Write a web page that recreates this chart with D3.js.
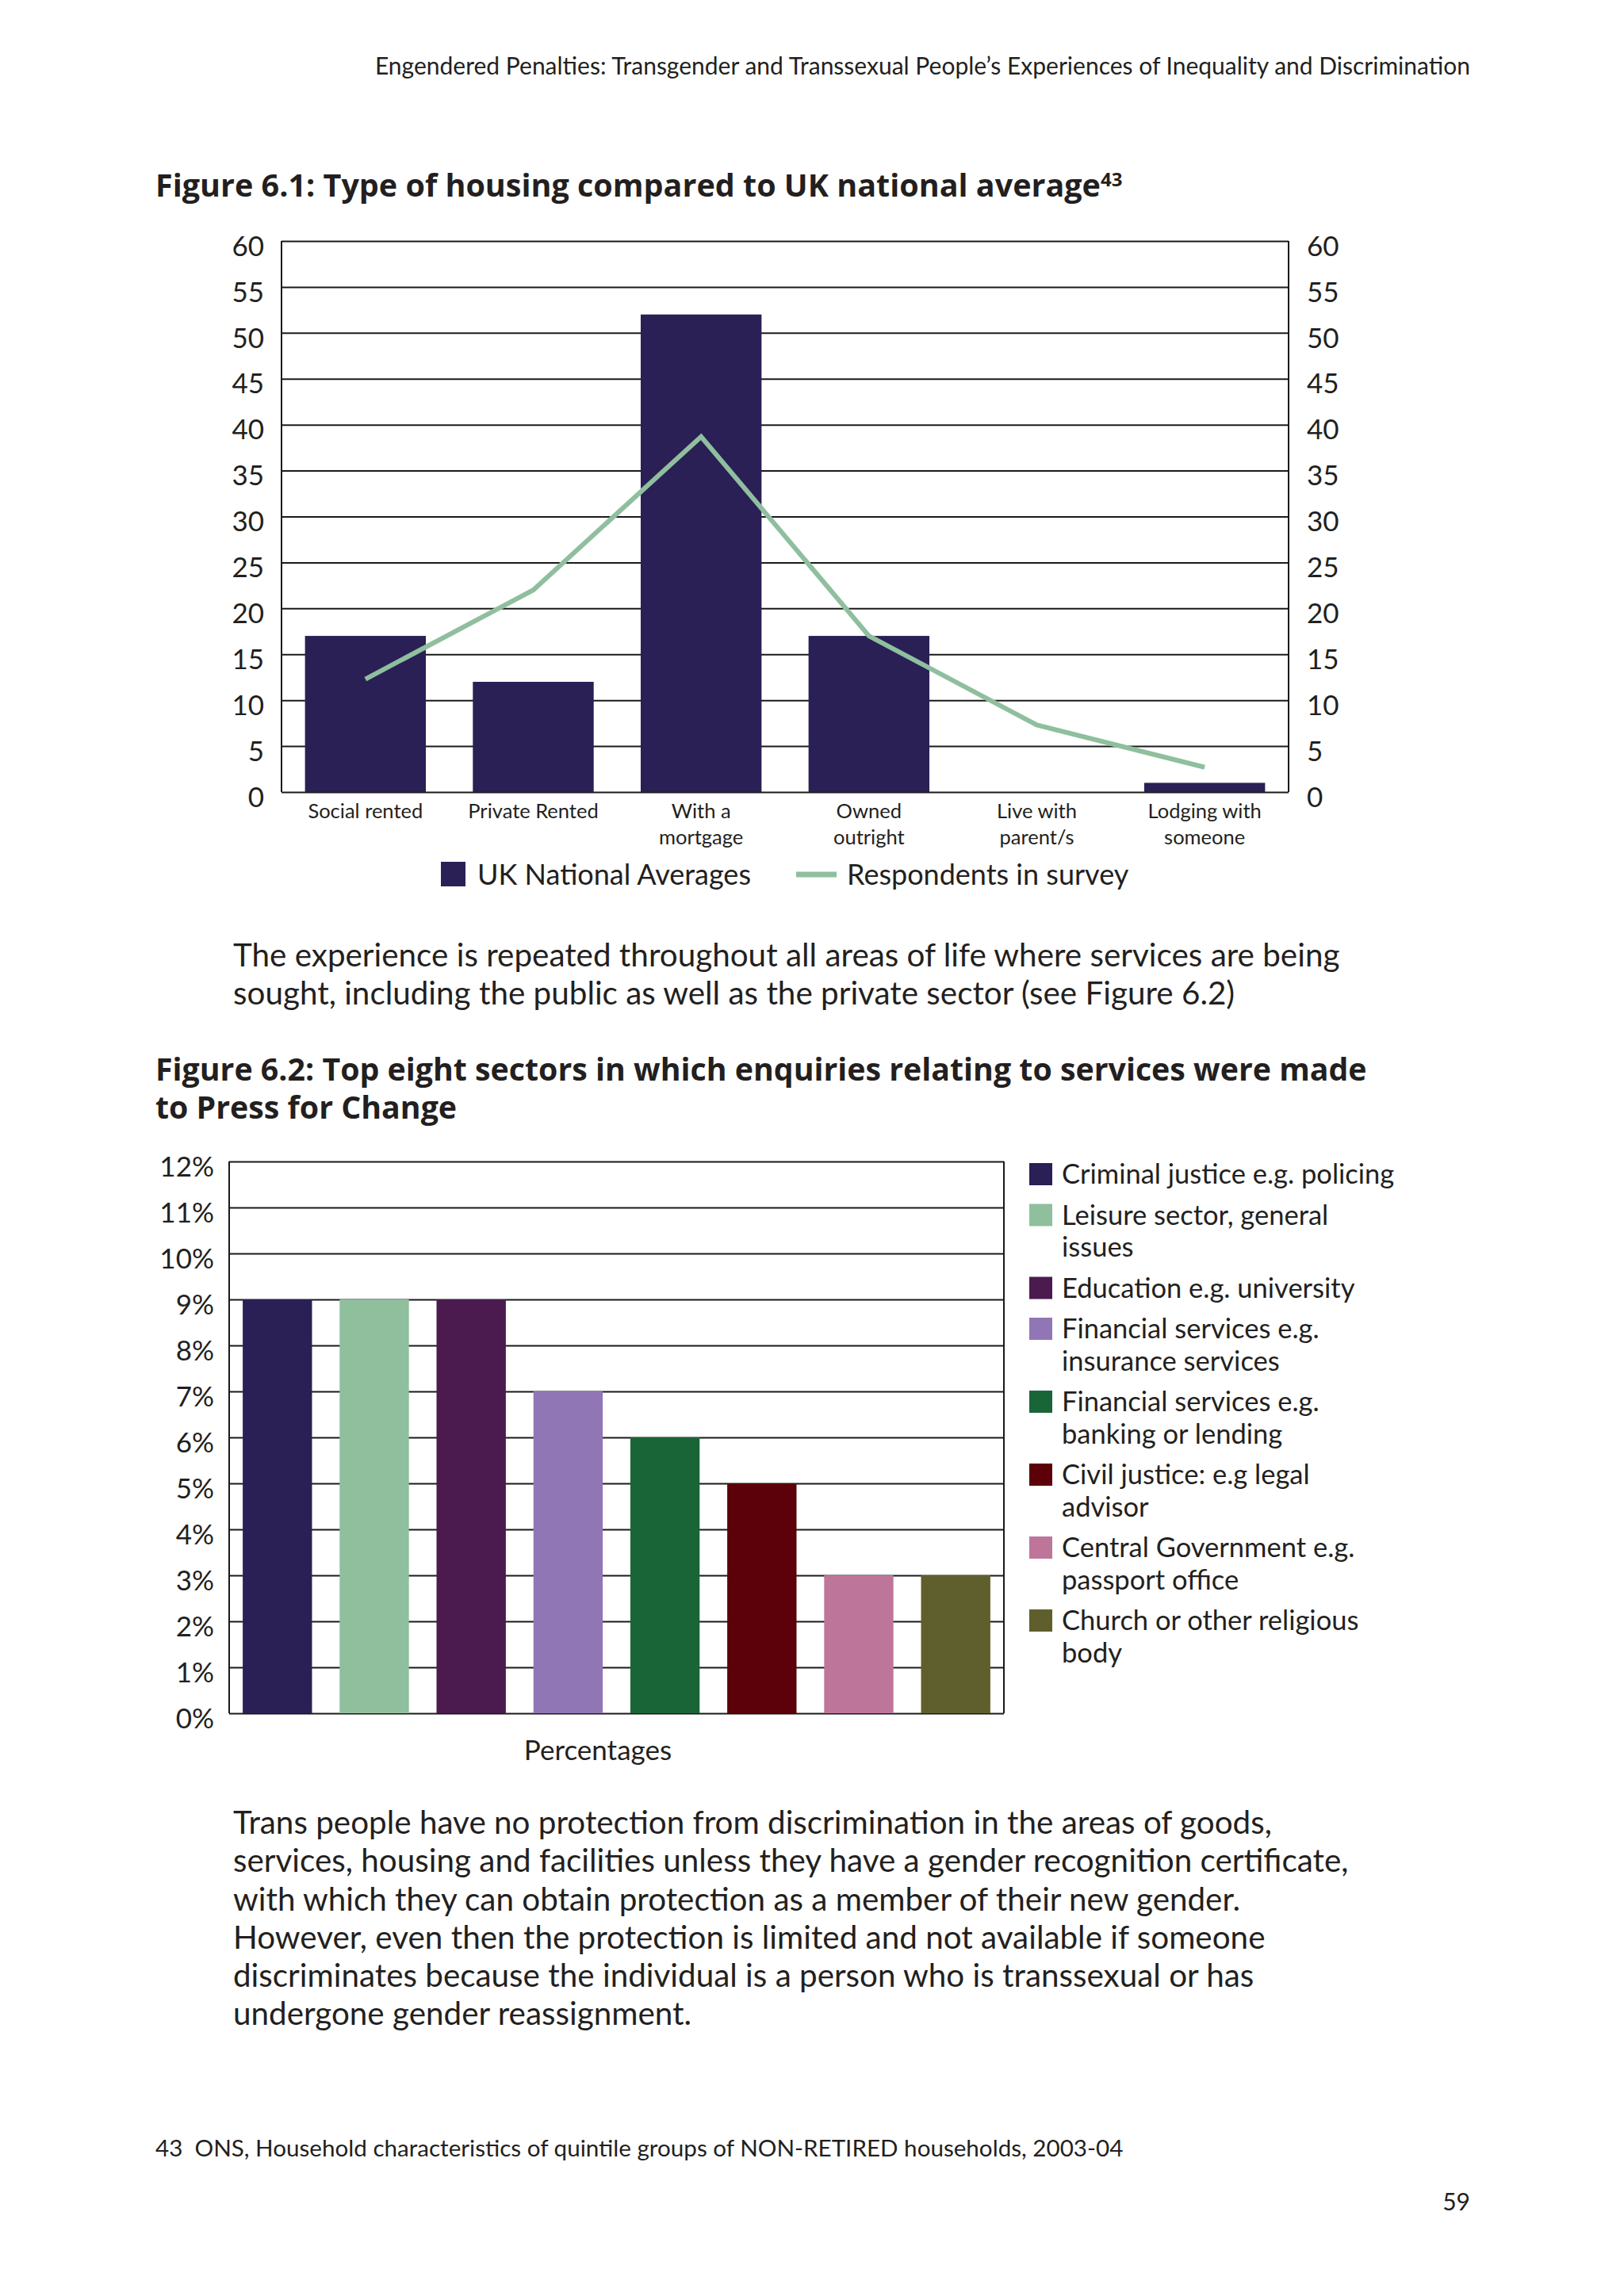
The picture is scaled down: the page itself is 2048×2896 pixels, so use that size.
<!DOCTYPE html>
<html>
<head>
<meta charset="utf-8">
<script src="https://cdn.jsdelivr.net/npm/d3@7"></script>
<style>
  body { margin: 0; background: #fff; }
  text { font-family: Lato, "Open Sans", sans-serif; fill: #231f20; }
  .bold { font-family: "Open Sans", Lato, sans-serif; }
</style>
</head>
<body>
<div id="page"></div>
<script>
// Figure 6.1 data
const housingCats = ["Social rented", "Private Rented", "With a mortgage", "Owned outright", "Live with parent/s", "Lodging with someone"];
const housingLabels = [["Social rented"], ["Private Rented"], ["With a", "mortgage"], ["Owned", "outright"], ["Live with", "parent/s"], ["Lodging with", "someone"]];
const ukAverages = [17, 12, 52, 17, 0, 1];
const respondents = [12.3, 22, 38.7, 17, 7.3, 2.7];
const housingTicks = [0, 5, 10, 15, 20, 25, 30, 35, 40, 45, 50, 55, 60];

// Figure 6.2 data
const sectors = ["Criminal justice", "Leisure sector", "Education", "Financial insurance", "Financial banking", "Civil justice", "Central Government", "Church"];
const sectorLegend = [
  ["Criminal justice e.g. policing"],
  ["Leisure sector, general", "issues"],
  ["Education e.g. university"],
  ["Financial services e.g.", "insurance services"],
  ["Financial services e.g.", "banking or lending"],
  ["Civil justice: e.g legal", "advisor"],
  ["Central Government e.g.", "passport office"],
  ["Church or other religious", "body"]
];
const sectorValues = [9, 9, 9, 7, 6, 5, 3, 3];
const sectorColors = ["#2a2055", "#8fbf9c", "#4b1a4f", "#9176b6", "#1a6537", "#5c0009", "#bd7699", "#5e5f2c"];
const pctTicks = [0, 1, 2, 3, 4, 5, 6, 7, 8, 9, 10, 11, 12];

const W = 2048, H = 2896;
const svg = d3.select("#page").append("svg").attr("width", W).attr("height", H);
svg.append("rect").attr("width", W).attr("height", H).attr("fill", "#fff");

function textLines(lines, x, y0, step, size, opts = {}) {
  const t = svg.append("text")
    .attr("font-size", size)
    .attr("font-weight", opts.weight || 400)
    .attr("class", opts.weight ? "bold" : null)
    .attr("text-anchor", opts.anchor || "start")
    .style("white-space", "pre");
  lines.forEach((l, i) => {
    t.append("tspan").attr("x", x).attr("y", y0 + i * step).attr("dy", "0.35em").text(l);
  });
  return t;
}

// page header
textLines(["Engendered Penalties: Transgender and Transsexual People\u2019s Experiences of Inequality and Discrimination"], 1854, 83, 0, 30, { anchor: "end" });

// ---------- Figure 6.1 ----------
const t1 = textLines(["Figure 6.1: Type of housing compared to UK national average"], 196, 234, 0, 39.5, { weight: 700 });
t1.append("tspan").attr("font-size", 24).attr("dy", "-0.55em").text("43");

const left1 = 355, right1 = 1625, top1 = 304, bottom1 = 999;
const x1 = d3.scaleBand().domain(housingCats).range([left1, right1]).paddingInner(0.28).paddingOuter(0.14);
const y1 = d3.scaleLinear().domain([0, 60]).range([bottom1, top1]);

const grid1 = svg.append("g").attr("transform", `translate(${left1},0)`)
  .call(d3.axisLeft(y1).tickValues(housingTicks).tickSize(-(right1 - left1)).tickFormat(""));
grid1.select(".domain").remove();
grid1.selectAll("line").attr("stroke", "#1a1a1a").attr("stroke-width", 2);

svg.append("g").selectAll("rect").data(ukAverages).join("rect")
  .attr("x", (d, i) => x1(housingCats[i]))
  .attr("y", d => y1(d))
  .attr("width", x1.bandwidth())
  .attr("height", d => bottom1 - y1(d))
  .attr("fill", "#2a2055");

const line1 = d3.line()
  .x((d, i) => x1(housingCats[i]) + x1.bandwidth() / 2)
  .y(d => y1(d));
svg.append("path").datum(respondents)
  .attr("d", line1)
  .attr("fill", "none")
  .attr("stroke", "#8fbf9e")
  .attr("stroke-width", 6);

// frame
svg.append("g").selectAll("line").data([left1, right1]).join("line")
  .attr("x1", d => d).attr("x2", d => d).attr("y1", top1).attr("y2", bottom1)
  .attr("stroke", "#1a1a1a").attr("stroke-width", 2);

const yl1 = svg.append("g").attr("transform", `translate(${left1},0)`)
  .call(d3.axisLeft(y1).tickValues(housingTicks).tickSize(0).tickPadding(22));
const yr1 = svg.append("g").attr("transform", `translate(${right1},0)`)
  .call(d3.axisRight(y1).tickValues(housingTicks).tickSize(0).tickPadding(23));
[yl1, yr1].forEach(g => {
  g.select(".domain").remove();
  g.attr("font-family", null);
  g.selectAll("text").attr("font-size", 35).attr("fill", "#231f20").attr("y", 7);
});

housingLabels.forEach((lines, i) => {
  textLines(lines, x1(housingCats[i]) + x1.bandwidth() / 2, 1023, 33, 25.5, { anchor: "middle" });
});

// legend 1
svg.append("rect").attr("x", 556).attr("y", 1087).attr("width", 31).attr("height", 31).attr("fill", "#2a2055");
textLines(["UK National Averages"], 602, 1103, 0, 36);
svg.append("line").attr("x1", 1004).attr("x2", 1055).attr("y1", 1103).attr("y2", 1103)
  .attr("stroke", "#8fbf9e").attr("stroke-width", 7);
textLines(["Respondents in survey"], 1068, 1103, 0, 36);

// paragraph 1
textLines([
  "The experience is repeated throughout all areas of life where services are being",
  "sought, including the public as well as the private sector (see Figure 6.2)"
], 294, 1205, 48, 40.4);

// ---------- Figure 6.2 ----------
textLines([
  "Figure 6.2: Top eight sectors in which enquiries relating to services were made",
  "to Press for Change"
], 196, 1349, 48, 39.3, { weight: 700 });

const left2 = 289, right2 = 1266, top2 = 1465, bottom2 = 2161;
const x2 = d3.scaleBand().domain(sectors).range([left2, right2]).paddingInner(0.285).paddingOuter(0.14);
const y2 = d3.scaleLinear().domain([0, 12]).range([bottom2, top2]);

const grid2 = svg.append("g").attr("transform", `translate(${left2},0)`)
  .call(d3.axisLeft(y2).tickValues(pctTicks).tickSize(-(right2 - left2)).tickFormat(""));
grid2.select(".domain").remove();
grid2.selectAll("line").attr("stroke", "#1a1a1a").attr("stroke-width", 2);

svg.append("g").selectAll("rect").data(sectorValues).join("rect")
  .attr("x", (d, i) => x2(sectors[i]))
  .attr("y", d => y2(d))
  .attr("width", x2.bandwidth())
  .attr("height", d => bottom2 - y2(d))
  .attr("fill", (d, i) => sectorColors[i]);

svg.append("g").selectAll("line").data([left2, right2]).join("line")
  .attr("x1", d => d).attr("x2", d => d).attr("y1", top2).attr("y2", bottom2)
  .attr("stroke", "#1a1a1a").attr("stroke-width", 2);

const yl2 = svg.append("g").attr("transform", `translate(${left2},0)`)
  .call(d3.axisLeft(y2).tickValues(pctTicks).tickSize(0).tickPadding(19).tickFormat(d => d + "%"));
yl2.select(".domain").remove();
yl2.attr("font-family", null);
yl2.selectAll("text").attr("font-size", 35).attr("fill", "#231f20").attr("y", 7);

textLines(["Percentages"], 754, 2208, 0, 35, { anchor: "middle" });

// legend 2
let ly = 1481;
sectorLegend.forEach((lines, i) => {
  svg.append("rect").attr("x", 1298).attr("y", ly - 14).attr("width", 29).attr("height", 28).attr("fill", sectorColors[i]);
  textLines(lines, 1339, ly, 40.5, 34.5);
  ly += lines.length * 40.5 + 11;
});

// paragraph 2
textLines([
  "Trans people have no protection from discrimination in the areas of goods,",
  "services, housing and facilities unless they have a gender recognition certificate,",
  "with which they can obtain protection as a member of their new gender.",
  "However, even then the protection is limited and not available if someone",
  "discriminates because the individual is a person who is transsexual or has",
  "undergone gender reassignment."
], 294, 2299, 48.2, 40.4);

// footnote + page number
textLines(["43  ONS, Household characteristics of quintile groups of NON-RETIRED households, 2003-04"], 196, 2710, 0, 29.6);
textLines(["59"], 1854, 2777, 0, 30, { anchor: "end" });
</script>
</body>
</html>
